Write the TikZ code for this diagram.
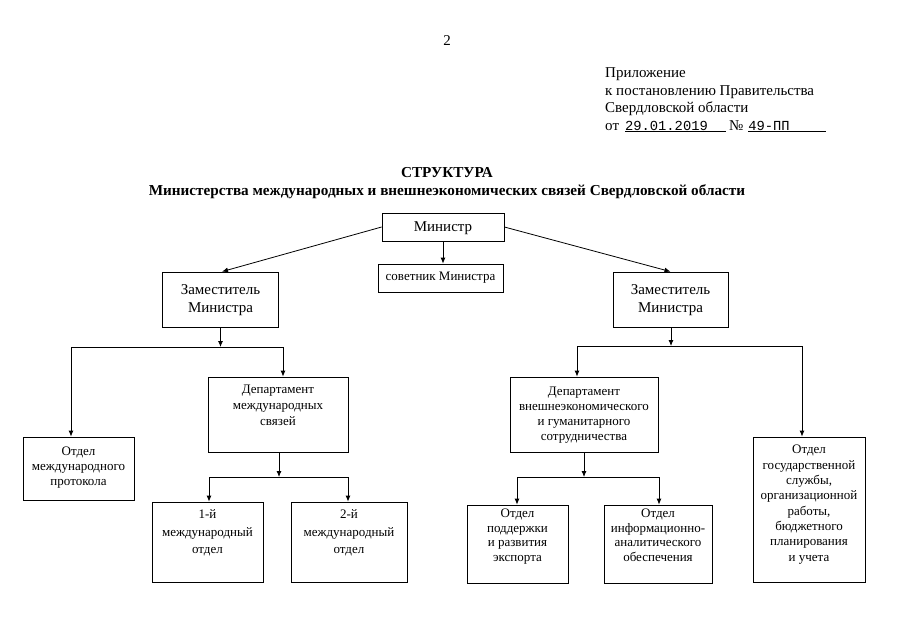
\documentclass[tikz,border=0pt]{standalone}
\usepackage{fontspec}
\setmainfont{Liberation Serif}
\setmonofont{Liberation Mono}
\usetikzlibrary{arrows.meta}
\tikzset{
  box/.style={draw, line width=0.8pt, inner sep=0pt},
  lbl/.style={anchor=north, inner sep=0pt, align=center, font=\fontsize{13}{15.5}\selectfont},
  lblbig/.style={anchor=north, inner sep=0pt, align=center, font=\fontsize{15}{18}\selectfont},
  ln/.style={line width=0.8pt},
  arr/.style={line width=0.8pt, -{Latex[length=6pt,width=5pt]}},
  hdr/.style={anchor=base west, inner sep=0pt, font=\fontsize{15}{17}\selectfont},
  ttl/.style={anchor=base, inner sep=0pt, font=\bfseries\fontsize{15.2}{17}\selectfont}
}
\newcommand{\dtfont}{\ttfamily\fontsize{13.8}{17}\selectfont}
\begin{document}
\begin{tikzpicture}[x=1pt,y=-1pt]
\useasboundingbox (0,0) rectangle (905,640);
% header
\node[anchor=base, inner sep=0pt, font=\fontsize{15}{17}\selectfont] (pg) at (447,45) {2};
\node[hdr] (h1) at (605,77) {Приложение};
\node[hdr] (h2) at (605,95) {к постановлению Правительства};
\node[hdr] (h3) at (605,112) {Свердловской области};
\node[hdr] (h4) at (605,130) {от\hspace{6pt}\underline{\makebox[101pt][l]{\dtfont 29.01.2019}}\hspace{3pt}№\hspace{5pt}\underline{\makebox[78pt][l]{\dtfont 49-ПП}}};
% title
\node[ttl] (t1) at (447,177) {СТРУКТУРА};
\node[ttl] (t2) at (447,195) {Министерства международных и внешнеэкономических связей Свердловской области};
% boxes
\node[box, minimum width=122, minimum height=28] (min) at (443,227) {};
\node[lblbig, anchor=center] at ([yshift=-1pt]min.center) {Министр};
\node[box, minimum width=125, minimum height=28] (sov) at (440.5,278) {};
\node[lbl, anchor=center] at (sov.center) {советник Министра};
\node[box, minimum width=116, minimum height=55] (zl) at (220.5,299.5) {};
\node[lblbig] at ([yshift=-13pt]zl.north) {Заместитель\\Министра};
\node[box, minimum width=115, minimum height=55] (zr) at (670.5,299.5) {};
\node[lblbig] at ([yshift=-13pt]zr.north) {Заместитель\\Министра};
\node[box, minimum width=111, minimum height=63] (otp) at (78.5,468.5) {};
\node[lbl, font=\fontsize{13}{15}\selectfont] at ([yshift=-10.5pt]otp.north) {Отдел\\международного\\протокола};
\node[box, minimum width=140, minimum height=75] (dep1) at (278,414.5) {};
\node[lbl, font=\fontsize{13}{16}\selectfont] at ([yshift=-8.5pt]dep1.north) {Департамент\\международных\\связей};
\node[box, minimum width=111, minimum height=80] (o1) at (207.5,542) {};
\node[lbl, font=\fontsize{13}{17.5}\selectfont] at ([yshift=-8pt]o1.north) {1-й\\международный\\отдел};
\node[box, minimum width=116, minimum height=80] (o2) at (349,542) {};
\node[lbl, font=\fontsize{13}{17.5}\selectfont] at ([yshift=-8pt]o2.north) {2-й\\международный\\отдел};
\node[box, minimum width=148, minimum height=75] (dep2) at (584,414.5) {};
\node[lbl, font=\fontsize{13}{14.8}\selectfont] at ([yshift=-10.5pt]dep2.north) {Департамент\\внешнеэкономического\\и гуманитарного\\сотрудничества};
\node[box, minimum width=112, minimum height=145] (ogs) at (809,509.5) {};
\node[lbl, font=\fontsize{13}{15.3}\selectfont] at ([yshift=-8.5pt]ogs.north) {Отдел\\государственной\\службы,\\организационной\\работы,\\бюджетного\\планирования\\и учета};
\node[box, minimum width=101, minimum height=78] (oexp) at (517.5,544) {};
\node[lbl, font=\fontsize{13}{14.5}\selectfont] at ([yshift=-4.5pt]oexp.north) {Отдел\\поддержки\\и развития\\экспорта};
\node[box, minimum width=108, minimum height=78] (oinf) at (658,544) {};
\node[lbl, font=\fontsize{13}{14.5}\selectfont] at ([yshift=-4.5pt]oinf.north) {Отдел\\информационно-\\аналитического\\обеспечения};
% connectors from minister
\draw[arr] (min.west) -- ([xshift=1.5pt]zl.north);
\draw[arr] (min.east) -- (zr.north);
\draw[arr] (min.south) -- (min.south |- sov.north);
% left deputy
\coordinate (j1) at (220.5,347);
\coordinate (j1l) at (71,347);
\coordinate (j1r) at (283,347);
\draw[arr] (zl.south) -- (j1);
\draw[ln] (j1l) -- (j1r);
\draw[arr] (j1l) -- (j1l |- otp.north);
\draw[arr] (j1r) -- (j1r |- dep1.north);
% dep1
\coordinate (j3) at (279,477);
\coordinate (j3l) at (209,477);
\coordinate (j3r) at (348,477);
\draw[arr] (j3 |- dep1.south) -- (j3);
\draw[ln] (j3l) -- (j3r);
\draw[arr] (j3l) -- (j3l |- o1.north);
\draw[arr] (j3r) -- (j3r |- o2.north);
% right deputy
\coordinate (j2) at (671,346);
\coordinate (j2l) at (577,346);
\coordinate (j2r) at (802,346);
\draw[arr] (j2 |- zr.south) -- (j2);
\draw[ln] (j2l) -- (j2r);
\draw[arr] (j2l) -- (j2l |- dep2.north);
\draw[arr] (j2r) -- (j2r |- ogs.north);
% dep2
\coordinate (j4) at (584,477);
\coordinate (j4l) at (517,477);
\coordinate (j4r) at (659,477);
\draw[arr] (dep2.south) -- (j4);
\draw[ln] (j4l) -- (j4r);
\draw[arr] (j4l) -- (j4l |- oexp.north);
\draw[arr] (j4r) -- (j4r |- oinf.north);
\end{tikzpicture}
\end{document}
